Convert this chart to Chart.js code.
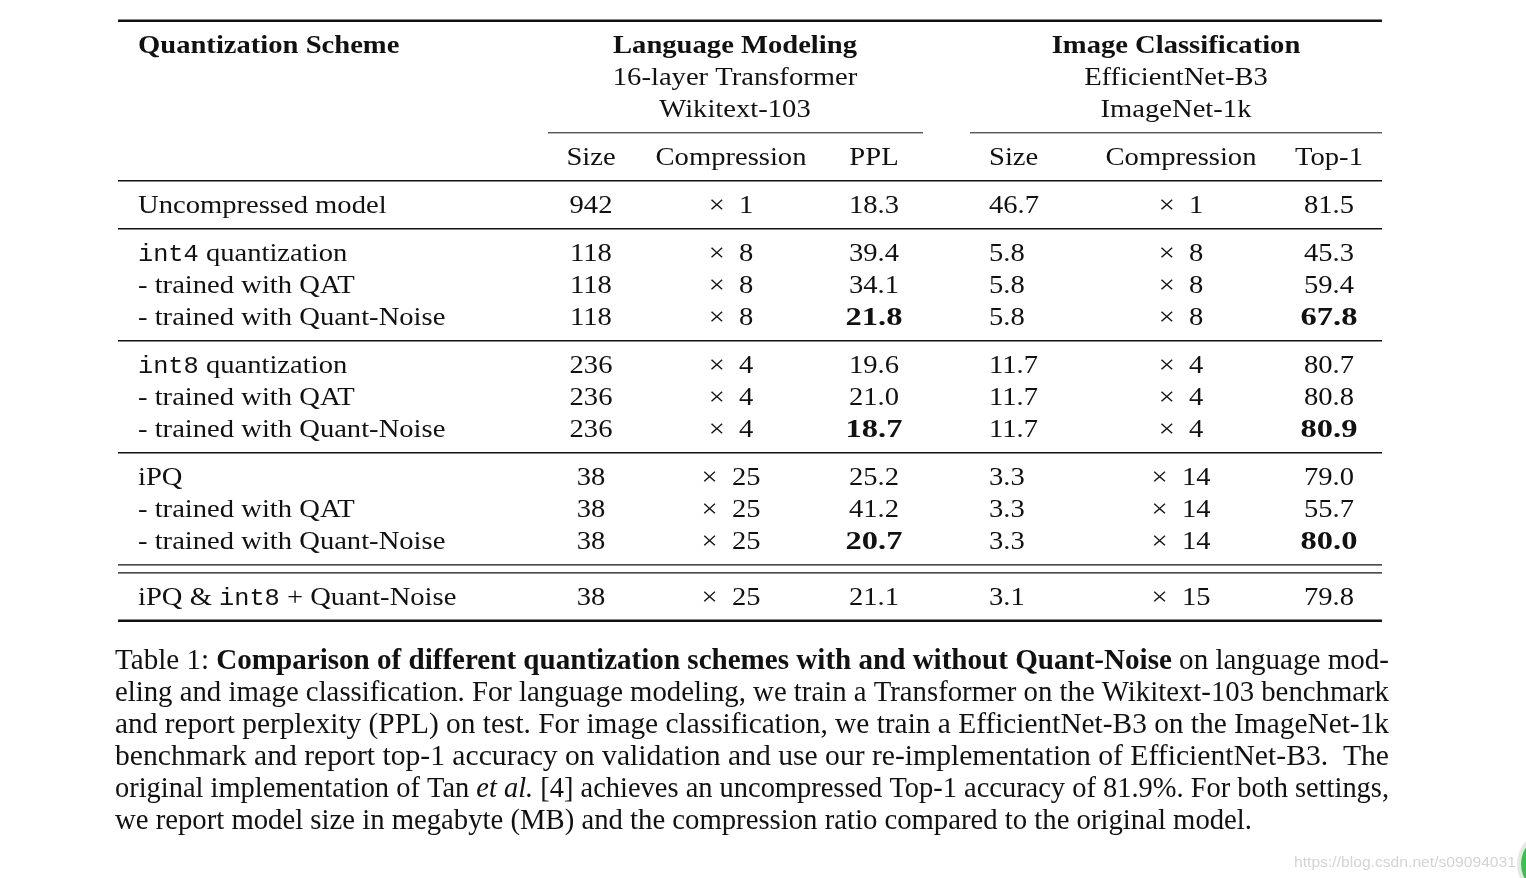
<!DOCTYPE html>
<html>
<head>
<meta charset="utf-8">
<title>Quant-Noise table</title>
<script src="https://cdn.jsdelivr.net/npm/chart.js@4/dist/chart.umd.min.js"></script>
<style>
  html, body { margin: 0; padding: 0; background: #fff; overflow: hidden; }
  canvas { display: block; }
</style>
</head>
<body>
<canvas id="tableChart" width="1526" height="878"></canvas>
<script>
// ---- table content ----
const groupTitles = ['Language Modeling', 'Image Classification'];
const groupModels = ['16-layer Transformer', 'EfficientNet-B3'];
const groupSets   = ['Wikitext-103', 'ImageNet-1k'];
const columnHeads = ['Size', 'Compression', 'PPL', 'Size', 'Compression', 'Top-1'];

// `...` marks typewriter text
const schemes = [
  'Uncompressed model',
  '`int4` quantization', '- trained with QAT', '- trained with Quant-Noise',
  '`int8` quantization', '- trained with QAT', '- trained with Quant-Noise',
  'iPQ', '- trained with QAT', '- trained with Quant-Noise',
  'iPQ & `int8` + Quant-Noise'
];
const lmSize  = [942, 118, 118, 118, 236, 236, 236, 38, 38, 38, 38];
const lmRatio = [1, 8, 8, 8, 4, 4, 4, 25, 25, 25, 25];
const lmPPL   = [18.3, 39.4, 34.1, 21.8, 19.6, 21.0, 18.7, 25.2, 41.2, 20.7, 21.1];
const icSize  = [46.7, 5.8, 5.8, 5.8, 11.7, 11.7, 11.7, 3.3, 3.3, 3.3, 3.1];
const icRatio = [1, 8, 8, 8, 4, 4, 4, 14, 14, 14, 15];
const icTop1  = [81.5, 45.3, 59.4, 67.8, 80.7, 80.8, 80.9, 79.0, 55.7, 80.0, 79.8];
const bestRows = [3, 6, 9];

// **bold**, *italic*
const captionLines = [
  'Table 1: **Comparison of different quantization schemes with and without Quant-Noise** on language mod-',
  'eling and image classification. For language modeling, we train a Transformer on the Wikitext-103 benchmark',
  'and report perplexity (PPL) on test. For image classification, we train a EfficientNet-B3 on the ImageNet-1k',
  'benchmark and report top-1 accuracy on validation and use our re-implementation of EfficientNet-B3.  The',
  'original implementation of Tan *et al.* [4] achieves an uncompressed Top-1 accuracy of 81.9%. For both settings,',
  'we report model size in megabyte (MB) and the compression ratio compared to the original model.'
];
const watermark = 'https://blog.csdn.net/s09094031';

// ---- layout (x in page px, y in half-line slots) ----
const tableLeft = 118, tableRight = 1382;
const labelX = 138;
const colX     = [591, 731, 874, 989, 1181, 1329];
const colAlign = ['center', 'center', 'center', 'left', 'center', 'center'];
const groupX   = [735, 1176];
const cmidSpans = [[548, 923], [970, 1382]];
const headSlots = [2, 4, 6];
const subHeadSlot = 9;
const rowSlots = [12, 15, 17, 19, 22, 24, 26, 29, 31, 33, 36.5];
const ruleSlots  = [0, 10, 13, 20, 27, 34, 34.5, 37.5];
const ruleWidths = [2.6, 1.6, 1.6, 1.6, 1.6, 1.2, 1.2, 2.6];
const cmidSlot = 7;
const captionX = 115, captionSlot0 = 40.5, captionWidth = 1274, lastLineWidth = 1137;

const SERIF = '"Liberation Serif", "Times New Roman", serif';
const MONO = '"Liberation Mono", "DejaVu Sans Mono", monospace';
const TABLE_PX = 26, TABLE_SX = 1.1;
const INK = '#111';

function parseCode(str) {
  return str.split('`').map((t, i) => ({
    text: t, font: i % 2 ? `23px ${MONO}` : `${TABLE_PX}px ${SERIF}`, sx: TABLE_SX
  })).filter(r => r.text.length);
}

function parseCaption(str) {
  const runs = [];
  const re = /(\*\*[^*]+\*\*|\*[^*]+\*)/g;
  str.split(re).forEach(t => {
    if (!t) return;
    if (t.startsWith('**')) runs.push({ text: t.slice(2, -2), font: `bold 30px ${SERIF}` });
    else if (t.startsWith('*')) runs.push({ text: t.slice(1, -1), font: `italic 30px ${SERIF}` });
    else runs.push({ text: t, font: `30px ${SERIF}` });
  });
  return runs;
}

function runsWidth(ctx, runs) {
  return runs.reduce((w, r) => { ctx.font = r.font; return w + ctx.measureText(r.text).width * (r.sx || 1); }, 0);
}

function drawRuns(ctx, runs, px, py, align) {
  const total = runsWidth(ctx, runs);
  let cx = align === 'center' ? px - total / 2 : align === 'right' ? px - total : px;
  ctx.textAlign = 'left';
  ctx.textBaseline = 'alphabetic';
  runs.forEach(r => {
    ctx.font = r.font;
    const sx = r.sx || 1;
    ctx.save();
    ctx.translate(cx, py);
    ctx.scale(sx, 1);
    ctx.fillText(r.text, 0, 0);
    ctx.restore();
    cx += ctx.measureText(r.text).width * sx;
  });
}

function cell(text, bold) {
  return [{ text: text, font: `${bold ? 'bold ' : ''}${TABLE_PX}px ${SERIF}`, sx: bold ? 1.25 : TABLE_SX }];
}

const tableText = {
  id: 'tableText',
  afterDatasetsDraw(chart) {
    const { ctx, scales: { x, y } } = chart;
    ctx.save();
    ctx.fillStyle = INK;

    // header
    drawRuns(ctx, [{ text: 'Quantization Scheme', font: `bold ${TABLE_PX}px ${SERIF}`, sx: TABLE_SX }],
      x.getPixelForValue(labelX), y.getPixelForValue(headSlots[0]), 'left');
    groupTitles.forEach((t, g) => {
      const gx = x.getPixelForValue(groupX[g]);
      drawRuns(ctx, [{ text: t, font: `bold ${TABLE_PX}px ${SERIF}`, sx: TABLE_SX }], gx, y.getPixelForValue(headSlots[0]), 'center');
      drawRuns(ctx, cell(groupModels[g]), gx, y.getPixelForValue(headSlots[1]), 'center');
      drawRuns(ctx, cell(groupSets[g]), gx, y.getPixelForValue(headSlots[2]), 'center');
    });
    columnHeads.forEach((t, c) => {
      drawRuns(ctx, cell(t), x.getPixelForValue(colX[c]), y.getPixelForValue(subHeadSlot), colAlign[c]);
    });

    // body
    schemes.forEach((s, r) => {
      const py = y.getPixelForValue(rowSlots[r]);
      const best = bestRows.includes(r);
      drawRuns(ctx, parseCode(s), x.getPixelForValue(labelX), py, 'left');
      const values = [
        String(lmSize[r]), '×\u2002' + lmRatio[r], lmPPL[r].toFixed(1),
        icSize[r].toFixed(1), '×\u2002' + icRatio[r], icTop1[r].toFixed(1)
      ];
      values.forEach((v, c) => {
        const bold = best && (c === 2 || c === 5);
        drawRuns(ctx, cell(v, bold), x.getPixelForValue(colX[c]), py, colAlign[c]);
      });
    });

    // caption, each line stretched to its measure
    captionLines.forEach((line, i) => {
      const runs = parseCaption(line);
      const target = i === captionLines.length - 1 ? lastLineWidth : captionWidth;
      const k = target / runsWidth(ctx, runs);
      runs.forEach(r => r.sx = k);
      drawRuns(ctx, runs, x.getPixelForValue(captionX), y.getPixelForValue(captionSlot0 + 2 * i), 'left');
    });

    // watermark + badge
    ctx.fillStyle = '#d4d4d4';
    const wm = [{ text: watermark, font: '15px "Liberation Sans", Arial, sans-serif' }];
    wm[0].sx = 222 / runsWidth(ctx, wm);
    drawRuns(ctx, wm, x.getPixelForValue(1294), y.getPixelForValue(52.9), 'left');
    const bx = x.getPixelForValue(1551), by = y.getPixelForValue(52.7);
    ctx.beginPath();
    ctx.arc(bx, by, 34, 0, Math.PI * 2);
    ctx.fillStyle = '#e6e6e6';
    ctx.fill();
    ctx.beginPath();
    ctx.arc(bx, by, 30, 0, Math.PI * 2);
    ctx.fillStyle = '#3fbf4f';
    ctx.fill();
    ctx.restore();
  }
};

// horizontal rules as line datasets
const ruleSets = ruleSlots.map((s, i) => ({
  data: [{ x: tableLeft, y: s }, { x: tableRight, y: s }],
  borderWidth: ruleWidths[i]
}));
cmidSpans.forEach(([a, b]) => ruleSets.push({
  data: [{ x: a, y: cmidSlot }, { x: b, y: cmidSlot }],
  borderWidth: 1
}));

const ctx = document.getElementById('tableChart').getContext('2d');
new Chart(ctx, {
  type: 'scatter',
  data: {
    datasets: ruleSets.map(d => ({
      ...d,
      showLine: true,
      borderColor: INK,
      pointRadius: 0,
      borderCapStyle: 'butt'
    }))
  },
  options: {
    responsive: false,
    animation: false,
    devicePixelRatio: 1,
    layout: { padding: 0 },
    plugins: { legend: { display: false }, tooltip: { enabled: false } },
    scales: {
      x: { type: 'linear', min: 0, max: 1526, display: false },
      y: { type: 'linear', min: -1.3, max: 53.575, reverse: true, display: false }
    }
  },
  plugins: [tableText]
});
</script>
</body>
</html>
